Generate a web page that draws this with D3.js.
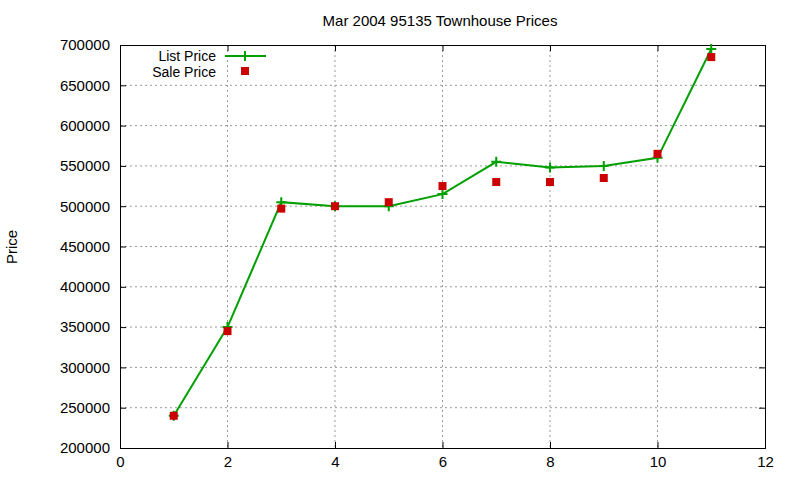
<!DOCTYPE html>
<html><head><meta charset="utf-8">
<script src="https://cdn.jsdelivr.net/npm/d3@7"></script>
<style>body{margin:0;background:#fff}text{font-family:"Liberation Sans",Arial,sans-serif;font-size:15px;fill:#000}</style>
</head><body><div id="chart"></div>
<script>
var months = [1,2,3,4,5,6,7,8,9,10,11];
var listPrice = [240000,350000,505000,500000,500000,515000,555000,548000,550000,560000,695000];
var salePrice = [240000,345000,497000,500000,505000,525000,530000,530000,535000,565000,685000];
var xTicks = [0,2,4,6,8,10,12];
var yTicks = [200000,250000,300000,350000,400000,450000,500000,550000,600000,650000,700000];

var margin = {top: 45, right: 35, bottom: 32, left: 120},
    width = 800 - margin.left - margin.right,
    height = 480 - margin.top - margin.bottom;

var svg = d3.select("#chart").append("svg").attr("width", 800).attr("height", 480);
var g = svg.append("g").attr("transform", "translate(" + margin.left + "," + margin.top + ")");

var x = d3.scaleLinear().domain([0, 12]).range([0, width]);
var y = d3.scaleLinear().domain([200000, 700000]).range([height, 0]);

// grid
g.append("g").selectAll("line").data(xTicks.slice(1, -1)).enter().append("line")
    .attr("x1", d => x(d)).attr("x2", d => x(d)).attr("y1", 0).attr("y2", height)
    .attr("stroke", "#999").attr("stroke-dasharray", "2,3");
g.append("g").selectAll("line").data(yTicks.slice(1, -1)).enter().append("line")
    .attr("y1", d => y(d)).attr("y2", d => y(d)).attr("x1", 0).attr("x2", width)
    .attr("stroke", "#999").attr("stroke-dasharray", "2,3");

// axes
g.append("g").attr("transform", "translate(0," + height + ")")
    .call(d3.axisBottom(x).tickValues(xTicks).tickSize(-6).tickPadding(8));
g.append("g").call(d3.axisTop(x).tickValues(xTicks).tickSize(-6).tickFormat(""));
g.append("g").call(d3.axisLeft(y).tickValues(yTicks).tickSize(-6).tickPadding(10).tickFormat(d3.format("d")));
g.append("g").attr("transform", "translate(" + width + ",0)")
    .call(d3.axisRight(y).tickValues(yTicks).tickSize(-6).tickFormat(""));
svg.selectAll(".tick text").style("font-size", "15px").attr("fill", "#000");
svg.selectAll(".domain, .tick line").attr("stroke", "#000");

// list price line
g.append("path").datum(months)
    .attr("fill", "none").attr("stroke", "#00a000").attr("stroke-width", 2)
    .attr("d", d3.line().x(d => x(d)).y((d, i) => y(listPrice[i])));
g.append("g").selectAll("path").data(months).enter().append("path")
    .attr("d", (d, i) => { var px = x(d), py = y(listPrice[i]); return "M" + (px-5) + "," + py + "h10M" + px + "," + (py-5) + "v10"; })
    .attr("stroke", "#00a000").attr("stroke-width", 2);

// sale price points
g.append("g").selectAll("rect").data(months).enter().append("rect")
    .attr("x", d => x(d) - 4).attr("y", (d, i) => y(salePrice[i]) - 4)
    .attr("width", 8).attr("height", 8).attr("fill", "#cc0000");

// legend
svg.append("text").attr("x", 216).attr("y", 61).attr("text-anchor", "end").style("font-size", "14px").text("List Price");
svg.append("line").attr("x1", 225).attr("x2", 266).attr("y1", 56).attr("y2", 56).attr("stroke", "#00a000").attr("stroke-width", 2);
svg.append("path").attr("d", "M240,56h10M245,51v10").attr("stroke", "#00a000").attr("stroke-width", 2);
svg.append("text").attr("x", 216).attr("y", 77).attr("text-anchor", "end").style("font-size", "14px").text("Sale Price");
svg.append("rect").attr("x", 241).attr("y", 67).attr("width", 8).attr("height", 8).attr("fill", "#cc0000");

// title and label
svg.append("text").attr("x", 440).attr("y", 26).attr("text-anchor", "middle").text("Mar 2004 95135 Townhouse Prices");
svg.append("text").attr("transform", "translate(17,247) rotate(-90)").attr("text-anchor", "middle").text("Price");
</script></body></html>
